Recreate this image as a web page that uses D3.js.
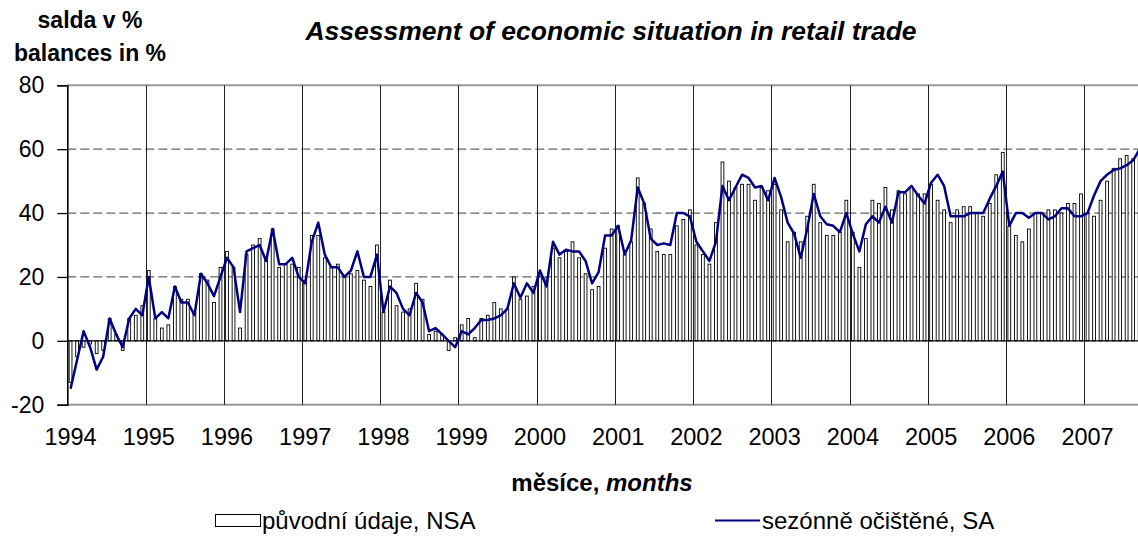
<!DOCTYPE html>
<html>
<head>
<meta charset="utf-8">
<script src="https://cdn.jsdelivr.net/npm/d3@7"></script>
<style>
  body { margin: 0; background: #fff; }
  svg { display: block; font-family: Arial, "Liberation Sans", sans-serif; }
</style>
</head>
<body>
<svg id="chart" width="1138" height="536"></svg>
<script>
// monthly data, Jan 1994 .. Sep 2007
var years = [1994, 1995, 1996, 1997, 1998, 1999, 2000, 2001, 2002, 2003, 2004, 2005, 2006, 2007];

var yTicks = [-20, 0, 20, 40, 60, 80];

// původní údaje, NSA
var nsa = [
  -13, -5, -2, -1, -4, -3, 7, 2, -3, 7, 8, 11,
  22, 7, 4, 5, 17, 13, 13, 9, 21, 19, 12, 23,
  28, 23, 4, 27, 30, 32, 26, 35, 23, 24, 24, 23,
  19, 33, 33, 26, 23, 24, 20, 21, 22, 19, 17, 30,
  9, 19, 11, 9, 10, 18, 13, 2, 3, 2, -3, 1,
  5, 7, 1, 7, 8, 12, 10, 10, 20, 13, 14, 17,
  20, 20, 29, 26, 28, 31, 26, 21, 16, 17, 29, 35,
  36, 27, 31, 51, 43, 35, 28, 27, 27, 36, 38, 41,
  30, 27, 24, 37, 56, 50, 48, 49, 49, 44, 48, 47,
  49, 41, 31, 34, 31, 39, 49, 37, 33, 33, 34, 44,
  34, 23, 32, 44, 43, 48, 41, 47, 46, 48, 46, 46,
  49, 44, 41, 37, 41, 42, 42, 40, 39, 43, 52, 59,
  36, 33, 31, 35, 40, 40, 41, 41, 40, 43, 43, 46,
  40, 39, 44, 50, 54, 57, 58, 57, 58
];

// sezónně očištěné, SA
var sa = [
  -15, -6, 3, -2, -9, -5, 7, 2, -2, 7, 10, 8,
  20, 7, 9, 7, 17, 12, 12, 8, 21, 18, 14, 20,
  26, 23, 9, 28, 29, 30, 25, 35, 24, 24, 26, 20,
  18, 31, 37, 27, 23, 23, 20, 22, 28, 20, 20, 27,
  9, 17, 15, 10, 8, 15, 12, 3, 4, 2, 0, -2,
  3, 2, 4, 6.5, 6.5, 7, 8, 10, 18, 13.5, 18, 15,
  22, 17, 31, 27, 28.5, 28, 28, 25, 18, 21.5, 33, 33,
  36, 27, 31.5, 48, 43, 32, 30, 30.5, 30, 40, 40, 39,
  31, 28, 25, 31, 48.5, 44, 48, 52, 51, 48, 48.5, 44,
  51, 45, 37, 33.5, 26, 35, 46, 39, 36.5, 36, 34, 40,
  33.5, 28, 36.5, 39, 37, 42, 37, 46.5, 46.5, 48.5, 45.5, 43,
  49.5, 52, 48.5, 39, 39, 39, 40, 40, 40, 44.5, 48.5, 53,
  36, 40, 40, 38.5, 40, 40, 38, 39, 41.5, 41.5, 39, 39,
  40, 45.5, 50, 52, 53.5, 54, 55, 56.5, 60
];

var svg = d3.select("#chart");

var plotLeft = 67.3, monthW = 6.519,
    plotTop = 85.3, plotBottom = 404.7;

var x = d3.scaleLinear()
    .domain([0, nsa.length])
    .range([plotLeft, plotLeft + nsa.length * monthW]);

var y = d3.scaleLinear()
    .domain([-20, 80])
    .range([plotBottom, plotTop]);

// horizontal grid
svg.append("g")
  .selectAll("line")
  .data([20, 40, 60])
  .enter().append("line")
    .attr("x1", plotLeft).attr("x2", 1138)
    .attr("y1", function(d) { return y(d); })
    .attr("y2", function(d) { return y(d); })
    .attr("stroke", "#666")
    .attr("stroke-width", 1.3)
    .attr("stroke-dasharray", "9,4");

// plot border top / bottom
svg.append("g")
  .selectAll("line")
  .data([-20, 80])
  .enter().append("line")
    .attr("x1", plotLeft).attr("x2", 1138)
    .attr("y1", function(d) { return y(d); })
    .attr("y2", function(d) { return y(d); })
    .attr("stroke", "#999")
    .attr("stroke-width", 2);

// year gridlines
svg.append("g")
  .selectAll("line")
  .data(years)
  .enter().append("line")
    .attr("x1", function(d, i) { return Math.round(x(i * 12)) + 0.5; })
    .attr("x2", function(d, i) { return Math.round(x(i * 12)) + 0.5; })
    .attr("y1", plotTop).attr("y2", plotBottom)
    .attr("stroke", "#222")
    .attr("stroke-width", 1);

// bars
svg.append("g")
  .selectAll("rect")
  .data(nsa)
  .enter().append("rect")
    .attr("x", function(d, i) { return x(i + 0.5) - 1.4; })
    .attr("width", 2.8)
    .attr("y", function(d) { return y(Math.max(0, d)); })
    .attr("height", function(d) { return Math.abs(y(d) - y(0)); })
    .attr("fill", "#fff")
    .attr("stroke", "#000")
    .attr("stroke-width", 0.9);

// zero line
svg.append("line")
    .attr("x1", plotLeft).attr("x2", 1138)
    .attr("y1", y(0)).attr("y2", y(0))
    .attr("stroke", "#000")
    .attr("stroke-width", 1.2);

// SA line
var line = d3.line()
    .x(function(d, i) { return x(i + 0.5); })
    .y(function(d) { return y(d); });

svg.append("path")
    .datum(sa)
    .attr("d", line)
    .attr("fill", "none")
    .attr("stroke", "#000080")
    .attr("stroke-width", 2.5)
    .attr("stroke-linejoin", "round");

// y axis
var yAxis = d3.axisLeft(y)
    .tickValues(yTicks)
    .tickSize(10)
    .tickPadding(13)
    .tickFormat(function(d) { return String(d); });

var ya = svg.append("g")
    .attr("transform", "translate(" + plotLeft + ",0)")
    .call(yAxis);
ya.select(".domain").attr("stroke", "#000").attr("stroke-width", 1.6);
ya.selectAll(".tick line").attr("stroke", "#000").attr("stroke-width", 1.3);
ya.selectAll("text")
    .attr("fill", "#000")
    .style("font-size", "23px")
    .style("font-family", "Arial, 'Liberation Sans', sans-serif");

// x labels
svg.append("g")
  .selectAll("text")
  .data(years)
  .enter().append("text")
    .attr("x", function(d, i) { return x(i * 12 + 0.5); })
    .attr("y", 445)
    .attr("text-anchor", "middle")
    .style("font-size", "23.5px")
    .text(function(d) { return d; });

// titles
svg.append("text")
    .attr("x", 611)
    .attr("y", 40)
    .attr("text-anchor", "middle")
    .style("font-size", "26.5px")
    .style("font-weight", "bold")
    .style("font-style", "italic")
    .text("Assessment of economic situation in retail trade");

svg.append("text")
    .attr("x", 90)
    .attr("y", 28)
    .attr("text-anchor", "middle")
    .style("font-size", "23px")
    .style("font-weight", "bold")
    .text("salda v %");

svg.append("text")
    .attr("x", 90)
    .attr("y", 61)
    .attr("text-anchor", "middle")
    .style("font-size", "23px")
    .style("font-weight", "bold")
    .text("balances in %");

var xt = svg.append("text")
    .attr("x", 602)
    .attr("y", 491)
    .attr("text-anchor", "middle")
    .style("font-size", "24px")
    .style("font-weight", "bold");
xt.append("tspan").text("měsíce, ");
xt.append("tspan").style("font-style", "italic").text("months");

// legend
svg.append("rect")
    .attr("x", 215.5).attr("y", 514.5)
    .attr("width", 45).attr("height", 12)
    .attr("fill", "#fff")
    .attr("stroke", "#000")
    .attr("stroke-width", 1);

svg.append("text")
    .attr("x", 262)
    .attr("y", 529)
    .style("font-size", "24px")
    .text("původní údaje, NSA");

svg.append("line")
    .attr("x1", 715).attr("x2", 760)
    .attr("y1", 520.5).attr("y2", 520.5)
    .attr("stroke", "#000080")
    .attr("stroke-width", 2);

svg.append("text")
    .attr("x", 762)
    .attr("y", 529)
    .style("font-size", "24px")
    .text("sezónně očištěné, SA");
</script>
</body>
</html>
